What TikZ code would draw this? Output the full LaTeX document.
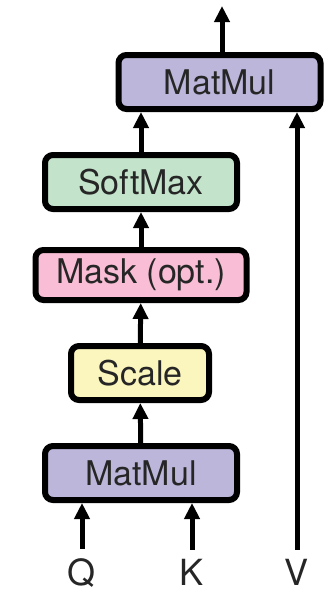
\documentclass[tikz,border=0pt]{standalone}
\usepackage{fontspec}
\setmainfont{TeX Gyre Heros}
\usetikzlibrary{arrows.meta,positioning}

\definecolor{matmulc}{RGB}{188,182,218}
\definecolor{softmaxc}{RGB}{196,227,203}
\definecolor{maskc}{RGB}{249,190,213}
\definecolor{scalec}{RGB}{251,245,190}

\begin{document}
\begin{tikzpicture}[x=1pt,y=-1pt,
    box/.style={draw,line width=6pt,rounded corners=8pt,minimum height=54pt,inner sep=0pt,
      text=black!85,font=\fontsize{34}{40}\selectfont},
    arr/.style={line width=5pt,-{Triangle[length=16pt,width=15pt]}},
    lbl/.style={anchor=base,inner sep=0pt,text=black!85,font=\fontsize{36}{40}\selectfont}]
    \useasboundingbox (0,0) rectangle (325,592);
    % boxes, bottom to top
    \node[box,fill=matmulc,minimum width=192pt] (mm1) at (141,473) {MatMul};
    \node[box,fill=scalec,minimum width=138pt] (scale) at (140,373) {Scale};
    \node[box,fill=maskc,minimum width=211pt,minimum height=50pt] (mask) at (141,275) {Mask (opt.)};
    \node[box,fill=softmaxc,minimum width=192pt] (softmax) at (141,182) {SoftMax};
    \node[box,fill=matmulc,minimum width=202pt] (mm2) at (219.5,82) {MatMul};
    % inputs
    \node[lbl] (q) at (82,585) {Q};
    \node[lbl] (k) at (192,585) {K};
    \node[lbl] (v) at (297,585) {V};
    \coordinate (out) at (222,6);
    \foreach \a in {q,k}
      \draw[arr,shorten <=9pt] (\a.north) -- (\a.north |- mm1.south);
    \draw[arr,shorten <=9pt] (v.north) -- (v.north |- mm2.south);
    \foreach \a/\b in {mm1/scale, scale/mask, mask/softmax}
      \draw[arr] (\a) -- (\b);
    \draw[arr] (softmax) -- (softmax |- mm2.south);
    \draw[arr] (out |- mm2.north) -- (out);
\end{tikzpicture}
\end{document}
